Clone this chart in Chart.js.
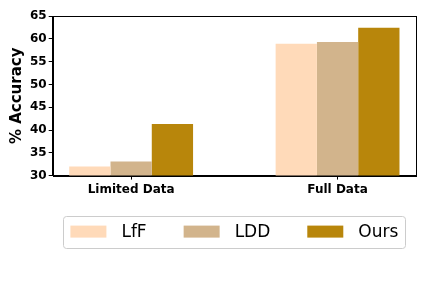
<!DOCTYPE html>
<html>
<head>
<meta charset="utf-8">
<script src="https://cdn.jsdelivr.net/npm/chart.js@4"></script>
<style>
  html, body { margin: 0; padding: 0; background: #fff; }
  #wrap { width: 432px; height: 288px; }
</style>
</head>
<body>
<div id="wrap"><canvas id="c"></canvas></div>
<script>
// data
var categories = ['Limited Data', 'Full Data'];
var methods = ['LfF', 'LDD', 'Ours'];
var lffVals = [32.0, 58.9];
var lddVals = [33.1, 59.3];
var oursVals = [41.3, 62.4];
var colors = ['#FFDAB9', '#D2B48C', '#B8860B'];

function points(vals) {
  return vals.map(function(v, i) { return { x: i, y: v }; });
}

// frame around the plot
var framePlugin = {
  id: 'frame',
  afterDraw: function(chart) {
    var ctx = chart.ctx;
    var a = chart.chartArea;
    ctx.save();
    ctx.strokeStyle = '#000';
    ctx.lineWidth = 1;
    ctx.strokeRect(Math.round(a.left) + 0.5, Math.round(a.top) + 0.5,
                   Math.round(a.right - a.left), Math.round(a.bottom - a.top));
    ctx.restore();
  }
};

// matplotlib-like legend below the axes, one row, framed
var boxLegend = {
  id: 'boxLegend',
  afterDraw: function(chart) {
    var ctx = chart.ctx;
    var a = chart.chartArea;
    var sw = 36, sh = 12, gap = 15, spacing = 37, pad = 7, fs = 17;
    ctx.save();
    ctx.font = fs + 'px "DejaVu Sans"';
    var items = chart.data.datasets.map(function(ds) {
      return { label: ds.label, color: ds.backgroundColor, tw: ctx.measureText(ds.label).width };
    });
    var total = 0;
    items.forEach(function(it, i) { total += sw + gap + it.tw + (i ? spacing : 0); });
    var cx = (a.left + a.right) / 2;
    var cy = a.bottom + 56;
    var x = cx - total / 2;

    ctx.strokeStyle = '#cccccc';
    ctx.lineWidth = 1;
    ctx.beginPath();
    ctx.roundRect(Math.round(x - pad) + 0.5, Math.round(cy - 16) + 0.5, Math.round(total + 2 * pad), 32, 3);
    ctx.stroke();

    ctx.textBaseline = 'middle';
    items.forEach(function(it) {
      ctx.fillStyle = it.color;
      ctx.fillRect(x, cy - sh / 2, sw, sh);
      ctx.fillStyle = '#000';
      ctx.fillText(it.label, x + sw + gap, cy + 1);
      x += sw + gap + it.tw + spacing;
    });
    ctx.restore();
  }
};

var ctx = document.getElementById('c');
var chart = new Chart(ctx, {
  type: 'bar',
  data: {
    datasets: [
      { label: methods[0], data: points(lffVals), backgroundColor: colors[0] },
      { label: methods[1], data: points(lddVals), backgroundColor: colors[1] },
      { label: methods[2], data: points(oursVals), backgroundColor: colors[2] }
    ]
  },
  options: {
    responsive: true,
    maintainAspectRatio: false,
    animation: false,
    categoryPercentage: 0.6,
    barPercentage: 1.0,
    layout: { padding: { top: 16, right: 16, bottom: 88, left: 8 } },
    plugins: {
      tooltip: { enabled: false },
      legend: { display: false }
    },
    scales: {
      x: {
        type: 'linear',
        min: -0.38,
        max: 1.38,
        offset: false,
        afterBuildTicks: function(axis) {
          axis.ticks = categories.map(function(c, i) { return { value: i }; });
        },
        ticks: {
          color: '#000',
          padding: 3,
          font: { family: 'DejaVu Sans', size: 12, weight: 'bold' },
          maxRotation: 0,
          autoSkip: false,
          callback: function(v) { return categories[v]; }
        },
        grid: { offset: false, drawOnChartArea: false, tickLength: 4, color: '#000' },
        border: { color: '#000' }
      },
      y: {
        min: 30,
        max: 65,
        ticks: {
          stepSize: 5,
          color: '#000',
          padding: 2,
          font: { family: 'DejaVu Sans', size: 12, weight: 'bold' }
        },
        grid: { drawOnChartArea: false, tickLength: 4, color: '#000' },
        border: { color: '#000' },
        title: {
          display: true,
          text: '% Accuracy',
          color: '#000',
          font: { family: 'DejaVu Sans', size: 15, weight: 'bold' },
          padding: { top: 0, bottom: 2 }
        }
      }
    }
  },
  plugins: [framePlugin, boxLegend]
});
</script>
</body>
</html>
